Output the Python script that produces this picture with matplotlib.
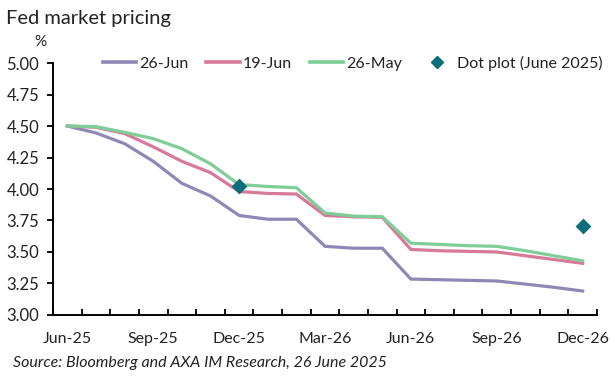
import matplotlib
matplotlib.use('Agg')
import matplotlib.pyplot as plt
from matplotlib.lines import Line2D

plt.rcParams['font.family'] = ['Lato', 'DejaVu Sans']

months = ['Jun-25', 'Jul-25', 'Aug-25', 'Sep-25', 'Oct-25', 'Nov-25', 'Dec-25',
          'Jan-26', 'Feb-26', 'Mar-26', 'Apr-26', 'May-26', 'Jun-26', 'Jul-26',
          'Aug-26', 'Sep-26', 'Oct-26', 'Nov-26', 'Dec-26']

jun26 = [4.50, 4.445, 4.36, 4.22, 4.045, 3.945, 3.79, 3.76, 3.76, 3.545, 3.53, 3.53,
         3.285, 3.28, 3.275, 3.27, 3.245, 3.22, 3.19]
jun19 = [4.50, 4.49, 4.44, 4.335, 4.22, 4.13, 3.98, 3.965, 3.96, 3.79, 3.78, 3.775,
         3.52, 3.51, 3.505, 3.50, 3.47, 3.44, 3.41]
may26 = [4.50, 4.495, 4.45, 4.40, 4.32, 4.20, 4.035, 4.02, 4.01, 3.81, 3.785, 3.78,
         3.57, 3.56, 3.55, 3.545, 3.51, 3.47, 3.43]

dot_months = ['Dec-25', 'Dec-26']
dot_values = [4.02, 3.71]

yticks = [3.00, 3.25, 3.50, 3.75, 4.00, 4.25, 4.50, 4.75, 5.00]
xlabels = ['Jun-25', 'Sep-25', 'Dec-25', 'Mar-26', 'Jun-26', 'Sep-26', 'Dec-26']

c_jun26 = '#8F88B5'
c_jun19 = '#D77A98'
c_may26 = '#7FCE98'
c_dot = '#0C6E78'

fig = plt.figure(figsize=(6.15, 3.78), dpi=100)
ax = fig.add_axes([0.0862, 0.1667, 0.8845, 0.6666])

x = list(range(len(months)))
ax.plot(x, jun26, color=c_jun26, lw=2.3, solid_joinstyle='miter', label='26-Jun', zorder=3)
ax.plot(x, jun19, color=c_jun19, lw=2.3, solid_joinstyle='miter', label='19-Jun', zorder=4)
ax.plot(x, may26, color=c_may26, lw=2.3, solid_joinstyle='miter', label='26-May', zorder=5)
dx = [months.index(m) for m in dot_months]
ax.scatter(dx, dot_values, marker='D', s=65, color=c_dot, zorder=6, linewidths=0,
           label='Dot plot (June 2025)')

ax.set_xlim(-0.5, len(months) - 0.5)
ax.set_ylim(3.0, 5.0)
ax.set_yticks(yticks)
ax.set_yticklabels(['%.2f' % v for v in yticks])
ax.set_xticks([months.index(m) for m in xlabels])
ax.set_xticklabels(xlabels)
ax.set_xticks([i - 0.5 for i in range(len(months) + 1)], minor=True)

for s in ['top', 'right']:
    ax.spines[s].set_visible(False)
for s in ['left', 'bottom']:
    ax.spines[s].set_linewidth(1.4)
    ax.spines[s].set_color('black')

ax.tick_params(axis='x', which='major', length=0, pad=12, labelsize=11.5, colors='#222222')
ax.tick_params(axis='x', which='minor', direction='in', length=4, width=1.3)
ax.tick_params(axis='y', direction='out', length=4, width=1.3, pad=6, labelsize=12,
               colors='black', labelcolor='#222222')

handles = [Line2D([], [], color=c_jun26, lw=2.6),
           Line2D([], [], color=c_jun19, lw=2.6),
           Line2D([], [], color=c_may26, lw=2.6),
           Line2D([], [], color=c_dot, marker='D', ms=6.5, lw=0)]
labels = ['26-Jun', '19-Jun', '26-May', 'Dot plot (June 2025)']
fig.legend(handles, labels, ncol=4, frameon=False, loc='center left',
           bbox_to_anchor=(0.167, 0.833), fontsize=11.5, handlelength=2.1,
           handletextpad=0.2, columnspacing=1.1, borderaxespad=0, borderpad=0,
           labelcolor='#222222')

fig.text(0.01, 0.952, 'Fed market pricing', fontsize=14.5, va='center', ha='left', color='#222222')
fig.text(0.065, 0.889, '%', fontsize=11, va='center', ha='center', color='#222222')
fig.text(0.021, 0.04, 'Source: Bloomberg and AXA IM Research, 26 June 2025', fontsize=11.5,
         style='italic', va='center', ha='left', color='#222222')

fig.savefig('out.png', dpi=100)
